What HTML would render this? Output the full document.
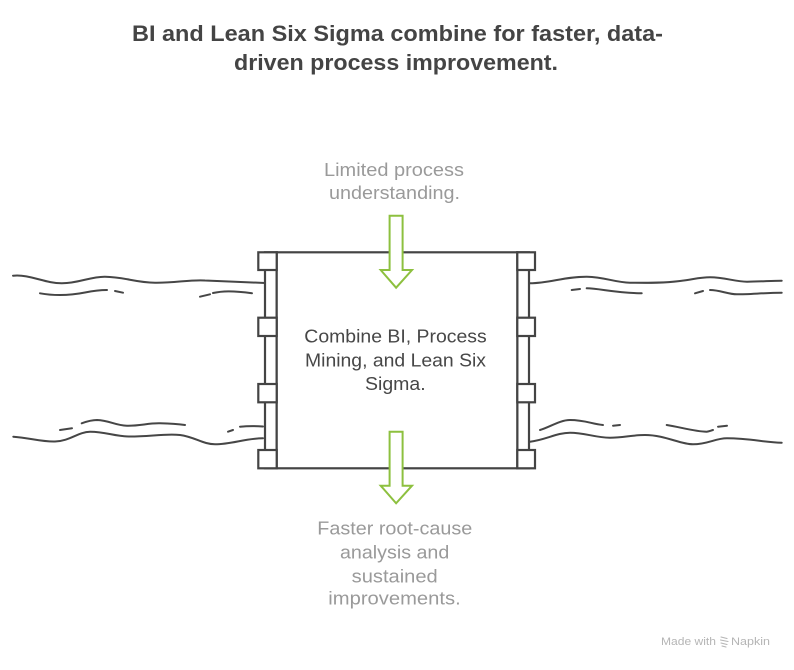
<!DOCTYPE html>
<html>
<head>
<meta charset="utf-8">
<style>
  html, body { margin: 0; padding: 0; background: #ffffff; }
  body { width: 794px; height: 670px; overflow: hidden; }
  svg { display: block; }
  .t { font-family: "Liberation Sans", Arial, sans-serif; }
</style>
</head>
<body>
<svg width="794" height="670" viewBox="0 0 794 670" xmlns="http://www.w3.org/2000/svg">
  <rect width="794" height="670" fill="#ffffff"/>

  <!-- Title -->
  <g class="t" font-weight="bold" font-size="22" fill="#444444" text-anchor="start">
    <text x="132" y="41" textLength="531" lengthAdjust="spacingAndGlyphs">BI and Lean Six Sigma combine for faster, data-</text>
    <text x="234" y="70" textLength="324" lengthAdjust="spacingAndGlyphs">driven process improvement.</text>
  </g>

  <!-- Waves -->
  <g fill="none" stroke="#464646" stroke-width="2" stroke-linecap="round">
    <!-- left top main -->
    <path d="M13,275.7 C30,274 45,283.5 62,283.3 C80,283 90,276.5 105,276.7 C125,277 135,282.5 155,282.7 C175,283 190,279.5 205,280.5 C225,281.5 245,282 265,283"/>
    <!-- left top lower -->
    <path d="M40,293.3 C55,296 70,295.5 85,292.5 C95,290.5 100,290 107,290"/>
    <path d="M115,291 L123,292.7"/>
    <path d="M200,296.7 L210,294.3"/>
    <path d="M213,293 C222,291 232,290.5 252,293.2"/>
    <!-- left bottom upper -->
    <path d="M60,430 L72,428.3"/>
    <path d="M81.7,423.3 C88,421 92,420 97,420 C110,420.5 115,425.5 127,425.7 C140,426 148,423 160,423.3 C170,423.5 178,424 185,425"/>
    <path d="M228,431.7 L233,430"/>
    <path d="M240,426.7 C248,426 255,426 263,426.5"/>
    <!-- left bottom lower -->
    <path d="M13.3,436.7 C30,438 42,442 55,441.5 C70,441 78,432 90,431.7 C105,431.5 115,436.5 130,436.5 C150,436.5 165,433.5 180,435 C195,437 203,444.3 215,444.3 C232,444.3 245,438.3 263,438.3"/>
    <!-- right top main -->
    <path d="M530,283.3 C550,283 565,276.5 587,276.7 C605,277 615,282.5 630,282.7 C650,283 665,283 680,281 C695,279 700,277.3 710,277.3 C725,277.3 735,281.7 747,281.7 C760,281.7 770,280.8 781.7,280.7"/>
    <!-- right top lower -->
    <path d="M571.7,290 L580,289"/>
    <path d="M586.7,288.3 C600,288.5 615,293 641.7,293.3"/>
    <path d="M695,293.3 L703,291"/>
    <path d="M710,290 C720,290 728,294.3 737,294.3 C750,294.3 765,292.8 781.7,292.7"/>
    <!-- right bottom upper -->
    <path d="M540,430 C550,427 560,420 570,420 C585,420 592,424 603,425"/>
    <path d="M613,425.7 L620,425"/>
    <path d="M666.7,425 C680,427 695,431.7 706.7,431.7 C709,431.5 711,430.5 713,430"/>
    <path d="M718,426.7 L727,425.7"/>
    <!-- right bottom lower -->
    <path d="M530,441.7 C545,440 557,432.7 570,432.7 C585,432.7 595,437.7 610,437.7 C623,437.7 632,435 645,435 C665,435 680,444.3 693,444.3 C708,444.3 715,438.3 727,438.3 C750,438.3 765,442.5 781.7,442.7"/>
  </g>

  <!-- Frame columns -->
  <g fill="#ffffff" stroke="#444444" stroke-width="2.2">
    <rect x="265" y="252.3" width="11.7" height="216"/>
    <rect x="517.3" y="252.3" width="11.7" height="216"/>
    <!-- main box -->
    <rect x="276.7" y="252.3" width="240.6" height="216"/>
    <!-- left tabs -->
    <rect x="258.3" y="252.3" width="18.4" height="17.7"/>
    <rect x="258.3" y="317.7" width="18.4" height="18.3"/>
    <rect x="258.3" y="384" width="18.4" height="18.3"/>
    <rect x="258.3" y="450" width="18.4" height="18.3"/>
    <!-- right tabs -->
    <rect x="517.3" y="252.3" width="17.7" height="17.7"/>
    <rect x="517.3" y="317.7" width="17.7" height="18.3"/>
    <rect x="517.3" y="384" width="17.7" height="18.3"/>
    <rect x="517.3" y="450" width="17.7" height="18.3"/>
  </g>

  <!-- Arrows -->
  <g fill="#ffffff" stroke="#8dc03f" stroke-width="2" stroke-linejoin="miter">
    <path d="M389.6,215.7 L402.6,215.7 L402.6,270 L412,270 L396.1,287.7 L380.7,270 L389.6,270 Z"/>
    <path d="M389.6,431.7 L402.6,431.7 L402.6,485.7 L412,485.7 L396.1,503.3 L380.7,485.7 L389.6,485.7 Z"/>
  </g>

  <!-- Top label -->
  <g class="t" font-size="18" fill="#9a9a9a">
    <text x="324" y="176" textLength="140" lengthAdjust="spacingAndGlyphs">Limited process</text>
    <text x="329" y="199" textLength="131" lengthAdjust="spacingAndGlyphs">understanding.</text>
  </g>

  <!-- Center label -->
  <g class="t" font-size="18" fill="#474747">
    <text x="304.3" y="342.3" textLength="182.4" lengthAdjust="spacingAndGlyphs">Combine BI, Process</text>
    <text x="305" y="366.5" textLength="181" lengthAdjust="spacingAndGlyphs">Mining, and Lean Six</text>
    <text x="365" y="390" textLength="60.7" lengthAdjust="spacingAndGlyphs">Sigma.</text>
  </g>

  <!-- Bottom label -->
  <g class="t" font-size="18" fill="#9a9a9a">
    <text x="317.3" y="534.3" textLength="155" lengthAdjust="spacingAndGlyphs">Faster root-cause</text>
    <text x="340" y="558.3" textLength="109.3" lengthAdjust="spacingAndGlyphs">analysis and</text>
    <text x="351.7" y="582.3" textLength="86" lengthAdjust="spacingAndGlyphs">sustained</text>
    <text x="328.3" y="604.5" textLength="132.4" lengthAdjust="spacingAndGlyphs">improvements.</text>
  </g>

  <!-- Watermark -->
  <g class="t" font-size="11" fill="#b5b5b5">
    <text x="661" y="645" textLength="55" lengthAdjust="spacingAndGlyphs">Made with</text>
    <g stroke="#b5b5b5" stroke-width="1.1" fill="none" stroke-linecap="round">
      <path d="M721,637 L727,638.5 M720.5,640 L728,641.5 M721,643 L727,644.5 M722,646 L726,647"/>
    </g>
    <text x="731" y="645" textLength="39" lengthAdjust="spacingAndGlyphs">Napkin</text>
  </g>
</svg>
</body>
</html>
